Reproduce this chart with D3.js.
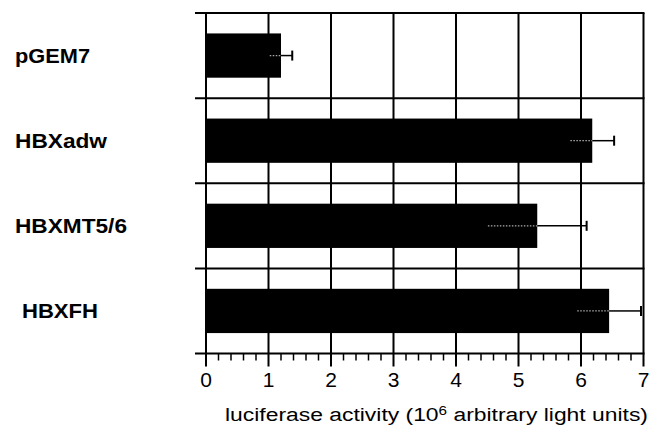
<!DOCTYPE html>
<html><head><meta charset="utf-8">
<script src="https://cdn.jsdelivr.net/npm/d3@7/dist/d3.min.js"></script>
<style>html,body{margin:0;padding:0;background:#fff;}svg{display:block;}</style>
</head><body>
<svg id="c" width="656" height="437"></svg>
<script>
const categories = ["pGEM7", "HBXadw", "HBXMT5/6", "HBXFH"];
const values = [1.2, 6.18, 5.3, 6.45];
const errors = [0.18, 0.35, 0.79, 0.51];
const xTicks = [0, 1, 2, 3, 4, 5, 6, 7];
const axisTitle = ["luciferase activity (10", "6", " arbitrary light units)"];

(function () {
const svg = d3.select("#c");
const pl = 206, pr = 643.5, pt = 13, pb = 353.5;
const x = d3.scaleLinear().domain([0, 7]).range([pl, pr]);
const y = d3.scaleBand().domain(categories).range([pt, pb]).paddingInner(0.48).paddingOuter(0.24);
const step = y.step();

// horizontal grid lines at category boundaries
const bounds = categories.map(c => y(c) - y.paddingInner() * step / 2);
bounds.push(pb);
svg.append("g").selectAll("line").data(bounds).join("line")
  .attr("x1", 195).attr("x2", pr + 1).attr("y1", d => d).attr("y2", d => d)
  .attr("stroke", "#000").attr("stroke-width", 2);

// vertical grid lines
svg.append("g").selectAll("line").data(xTicks).join("line")
  .attr("x1", d => x(d)).attr("x2", d => x(d)).attr("y1", pt).attr("y2", pb + 13)
  .attr("stroke", "#000").attr("stroke-width", 2);

// minor ticks
const minor = d3.range(0, 7.0001, 0.2).filter(v => Math.abs(v - Math.round(v)) > 1e-6);
svg.append("g").selectAll("line").data(minor).join("line")
  .attr("x1", d => x(d)).attr("x2", d => x(d)).attr("y1", pb).attr("y2", pb + 7)
  .attr("stroke", "#000").attr("stroke-width", 1.5);

// bars
svg.append("g").selectAll("rect").data(categories).join("rect")
  .attr("x", x(0)).attr("y", d => y(d)).attr("height", y.bandwidth())
  .attr("width", (d, i) => x(values[i]) - x(0)).attr("fill", "#000");

// error bars
const eb = svg.append("g");
categories.forEach((c, i) => {
  const cy = y(c) + y.bandwidth() / 2;
  eb.append("line").attr("x1", x(values[i] - errors[i])).attr("x2", x(values[i]))
    .attr("y1", cy).attr("y2", cy).attr("stroke", "#aaa").attr("stroke-width", 1.2)
    .attr("stroke-dasharray", "1.5,1.5");
  eb.append("line").attr("x1", x(values[i])).attr("x2", x(values[i] + errors[i]))
    .attr("y1", cy).attr("y2", cy).attr("stroke", "#000").attr("stroke-width", 1.5);
  eb.append("line").attr("x1", x(values[i] + errors[i])).attr("x2", x(values[i] + errors[i]))
    .attr("y1", cy - 5).attr("y2", cy + 5).attr("stroke", "#000").attr("stroke-width", 2);
});

// tick labels
svg.append("g").selectAll("text").data(xTicks).join("text")
  .attr("x", d => x(d)).attr("y", 387).attr("text-anchor", "middle")
  .attr("font-family", "Arial, 'Liberation Sans', sans-serif").attr("font-size", 21)
  .text(d => d);

// category labels
const lens = {"pGEM7": 75, "HBXadw": 92, "HBXMT5/6": 112, "HBXFH": 76};
svg.append("g").selectAll("text").data(categories).join("text")
  .attr("x", d => d === "HBXFH" ? 22 : 15)
  .attr("y", d => y(d) + y.bandwidth() / 2 + 7)
  .attr("font-family", "Arial, 'Liberation Sans', sans-serif").attr("font-weight", "bold")
  .attr("font-size", 20).attr("textLength", d => lens[d]).attr("lengthAdjust", "spacingAndGlyphs")
  .text(d => d);

// axis title
const t = svg.append("text").attr("x", 225).attr("y", 421)
  .attr("font-family", "Arial, 'Liberation Sans', sans-serif").attr("font-size", 18)
  .attr("textLength", 423).attr("lengthAdjust", "spacingAndGlyphs");
t.append("tspan").text(axisTitle[0]);
t.append("tspan").attr("font-size", 12).attr("dy", -6).text(axisTitle[1]);
t.append("tspan").attr("dy", 6).text(axisTitle[2]);
})();
</script>
</body></html>
